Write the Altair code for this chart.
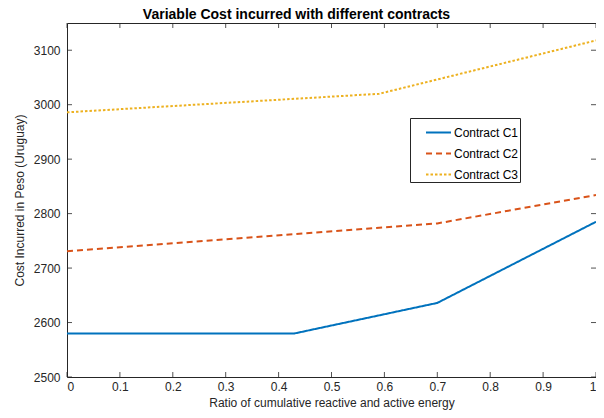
import altair as alt
import pandas as pd

# ---- data ----
series = ["Contract C1", "Contract C2", "Contract C3"]
c1_x = [0.0, 0.43, 0.70, 1.0]
c1_y = [2580, 2580, 2636, 2785]
c2_x = [0.0, 0.70, 1.0]
c2_y = [2731, 2782, 2834]
c3_x = [0.0, 0.59, 1.0]
c3_y = [2986, 3020, 3118]
x_ticks = [0, 0.1, 0.2, 0.3, 0.4, 0.5, 0.6, 0.7, 0.8, 0.9, 1.0]
y_ticks = [2500, 2600, 2700, 2800, 2900, 3000, 3100]
colors = ["#0072BD", "#D95319", "#EDB120"]
dashes = [[1, 0], [6, 4], [2.5, 2]]
widths = [2.0, 2.0, 3.0]

rows = []
for name, xs, ys in zip(series, [c1_x, c2_x, c3_x], [c1_y, c2_y, c3_y]):
    for i, (a, b) in enumerate(zip(xs, ys)):
        rows.append({"series": name, "x": a, "y": b, "order": i})
df = pd.DataFrame(rows)
xt = pd.DataFrame({"v": x_ticks})
yt = pd.DataFrame({"v": y_ticks})

W, H = 529, 354
FONT = "Liberation Sans"
INK = "#262626"
xscale = alt.Scale(domain=[0, 1], nice=False, zero=False)
yscale = alt.Scale(domain=[2500, 3150], nice=False, zero=False)
xaxis = alt.Axis(values=x_ticks, format="~g", title="Ratio of cumulative reactive and active energy",
                 ticks=False, domain=False, grid=False, labelPadding=4, titlePadding=5)
yaxis = alt.Axis(values=y_ticks, format="d", title="Cost Incurred in Peso (Uruguay)",
                 ticks=False, domain=False, grid=False, labelPadding=7, titlePadding=7)
legend = alt.Legend(title=None, labelExpr="datum.label + '\u00a0\u00a0\u00a0\u00a0\u00a0\u00a0'")

lines = alt.Chart(df).mark_line().encode(
    x=alt.X("x:Q", scale=xscale, axis=xaxis),
    y=alt.Y("y:Q", scale=yscale, axis=yaxis),
    color=alt.Color("series:N", scale=alt.Scale(domain=series, range=colors), legend=legend),
    strokeDash=alt.StrokeDash("series:N", scale=alt.Scale(domain=series, range=dashes), legend=legend),
    strokeWidth=alt.StrokeWidth("series:N", scale=alt.Scale(domain=series, range=widths), legend=legend),
    order="order:Q",
)

tick_bottom = alt.Chart(xt).mark_rule(color=INK, strokeWidth=0.8).encode(
    x=alt.X("v:Q", scale=xscale, axis=xaxis), y=alt.value(H), y2=alt.value(H - 5))
tick_top = alt.Chart(xt).mark_rule(color=INK, strokeWidth=0.8).encode(
    x=alt.X("v:Q", scale=xscale, axis=xaxis), y=alt.value(0), y2=alt.value(5))
tick_left = alt.Chart(yt).mark_rule(color=INK, strokeWidth=0.8).encode(
    y=alt.Y("v:Q", scale=yscale, axis=yaxis), x=alt.value(0), x2=alt.value(5))
tick_right = alt.Chart(yt).mark_rule(color=INK, strokeWidth=0.8).encode(
    y=alt.Y("v:Q", scale=yscale, axis=yaxis), x=alt.value(W), x2=alt.value(W - 5))

chart = alt.layer(lines, tick_bottom, tick_top, tick_left, tick_right).properties(
    width=W, height=H,
    title=alt.Title("Variable Cost incurred with different contracts", fontSize=14, fontWeight="bold",
                    font=FONT, color="black", offset=1, dx=-35),
    autosize=alt.AutoSizeParams(type="none"),
    padding={"left": 59, "top": 15, "right": 0, "bottom": 33},
).configure_view(stroke=INK, strokeWidth=1).configure_axis(
    labelFont=FONT, titleFont=FONT, labelFontSize=12, titleFontSize=12,
    labelColor=INK, titleColor=INK, titleFontWeight="normal",
).configure_legend(
    orient="none", legendX=343, legendY=95, fillColor="white", strokeColor=INK,
    padding=1, symbolType="stroke", symbolSize=625, labelFont=FONT, labelFontSize=12,
    labelColor="black", rowPadding=1, symbolOffset=14, labelOffset=2,
)

chart.save("out.html", embed_options={"renderer": "svg", "actions": False})
